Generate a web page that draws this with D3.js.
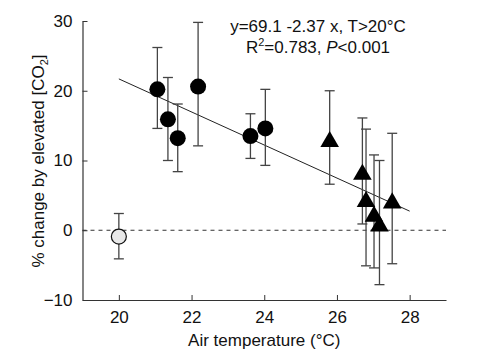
<!DOCTYPE html>
<html><head><meta charset="utf-8">
<script src="https://cdn.jsdelivr.net/npm/d3@7"></script>
<style>
body{margin:0;background:#fff;}
svg text{font-family:"Liberation Sans",Arial,Helvetica,sans-serif;fill:#111;}
</style></head>
<body><svg id="c" width="485" height="360"></svg>
<script>
// Data
const circleTemp = [21.06, 21.35, 21.62, 22.18, 23.62, 24.03];
const circleVal  = [20.2, 15.9, 13.2, 20.6, 13.5, 14.6];
const circleHi   = [26.2, 21.9, 18.1, 29.8, 16.7, 20.2];
const circleLo   = [14.6, 10.0, 8.4, 12.1, 10.3, 9.3];

const triTemp = [25.8, 26.7, 26.8, 27.02, 27.17, 27.52];
const triVal  = [12.7, 8.0, 4.1, 2.0, 0.6, 3.9];
const triHi   = [20.0, 16.1, 14.5, 10.8, 10.0, 13.9];
const triLo   = [6.6, 0.9, -5.1, -5.4, -7.8, -4.8];

const openTemp = [20.0];
const openVal  = [-0.9];
const openHi   = [2.4];
const openLo   = [-4.1];

const fitIntercept = 69.1, fitSlope = -2.37, fitRange = [20, 28];
const xTicks = [20, 22, 24, 26, 28];
const yTicks = [-10, 0, 10, 20, 30];

const svg = d3.select("#c");
const m = {l:82.5, r:446, t:21, b:300};
const x = d3.scaleLinear().domain([19, 29]).range([m.l, m.r]);
const y = d3.scaleLinear().domain([-10, 30]).range([m.b, m.t]);

// axes
const gx = svg.append("g").attr("transform", `translate(0,${m.b})`)
  .call(d3.axisBottom(x).tickValues(xTicks).tickSizeInner(-5).tickSizeOuter(0).tickPadding(11));
const gy = svg.append("g").attr("transform", `translate(${m.l},0)`)
  .call(d3.axisLeft(y).tickValues(yTicks).tickSizeInner(-5).tickSizeOuter(0).tickPadding(10));
[gx, gy].forEach(g => {
  g.select(".domain").attr("stroke", "#333").attr("stroke-width", 1.2);
  g.selectAll(".tick line").attr("stroke", "#333");
  g.selectAll("text").attr("font-size", 17).style("font-family", '"Liberation Sans",Arial,sans-serif').attr("fill", "#111");
});

// zero dashed line
svg.append("line").attr("x1", m.l).attr("x2", m.r).attr("y1", y(0)).attr("y2", y(0))
  .attr("stroke", "#333").attr("stroke-width", 1).attr("stroke-dasharray", "4,4");

// regression line
svg.append("line")
  .attr("x1", x(fitRange[0])).attr("y1", y(fitIntercept + fitSlope * fitRange[0]))
  .attr("x2", x(fitRange[1])).attr("y2", y(fitIntercept + fitSlope * fitRange[1]))
  .attr("stroke", "#222").attr("stroke-width", 1);

// error bars
function errbars(T, H, L) {
  const g = svg.append("g").attr("stroke", "#444").attr("stroke-width", 1.3);
  T.forEach((t, i) => {
    g.append("line").attr("x1", x(t)).attr("x2", x(t)).attr("y1", y(H[i])).attr("y2", y(L[i]));
    g.append("line").attr("x1", x(t) - 5).attr("x2", x(t) + 5).attr("y1", y(H[i])).attr("y2", y(H[i]));
    g.append("line").attr("x1", x(t) - 5).attr("x2", x(t) + 5).attr("y1", y(L[i])).attr("y2", y(L[i]));
  });
}
errbars(openTemp, openHi, openLo);
errbars(circleTemp, circleHi, circleLo);
errbars(triTemp, triHi, triLo);

// markers
svg.append("g").selectAll("circle").data(openTemp).join("circle")
  .attr("cx", d => x(d)).attr("cy", (d, i) => y(openVal[i])).attr("r", 7.5)
  .attr("fill", "#e8e8e8").attr("stroke", "#111").attr("stroke-width", 1.2);
svg.append("g").selectAll("circle").data(circleTemp).join("circle")
  .attr("cx", d => x(d)).attr("cy", (d, i) => y(circleVal[i])).attr("r", 8)
  .attr("fill", "#000");
const tri = d3.symbol().type(d3.symbolTriangle).size(150);
svg.append("g").selectAll("path").data(triTemp).join("path")
  .attr("d", tri)
  .attr("transform", (d, i) => `translate(${x(d)},${y(triVal[i])})`)
  .attr("fill", "#000");

// annotation
const ann = svg.append("text").attr("x", 318).attr("y", 32).attr("text-anchor", "middle").attr("font-size", 17);
ann.text("y=69.1 -2.37 x, T>20\u00B0C");
const a2 = svg.append("text").attr("x", 318).attr("y", 53).attr("text-anchor", "middle").attr("font-size", 17);
a2.append("tspan").text("R");
a2.append("tspan").attr("dy", -7).attr("font-size", 11).text("2");
a2.append("tspan").attr("dy", 7).text("=0.783, ");
a2.append("tspan").attr("font-style", "italic").text("P");
a2.append("tspan").text("<0.001");

// axis titles
svg.append("text").attr("x", x(24)).attr("y", 346).attr("text-anchor", "middle").attr("font-size", 17)
  .text("Air temperature (\u00B0C)");
const yt = svg.append("text").attr("transform", `translate(44,${161}) rotate(-90)`)
  .attr("text-anchor", "middle").attr("font-size", 17);
yt.append("tspan").text("% change by elevated [CO");
yt.append("tspan").attr("dy", 4).attr("font-size", 11).text("2");
yt.append("tspan").attr("dy", -4).text("]");
</script></body></html>
